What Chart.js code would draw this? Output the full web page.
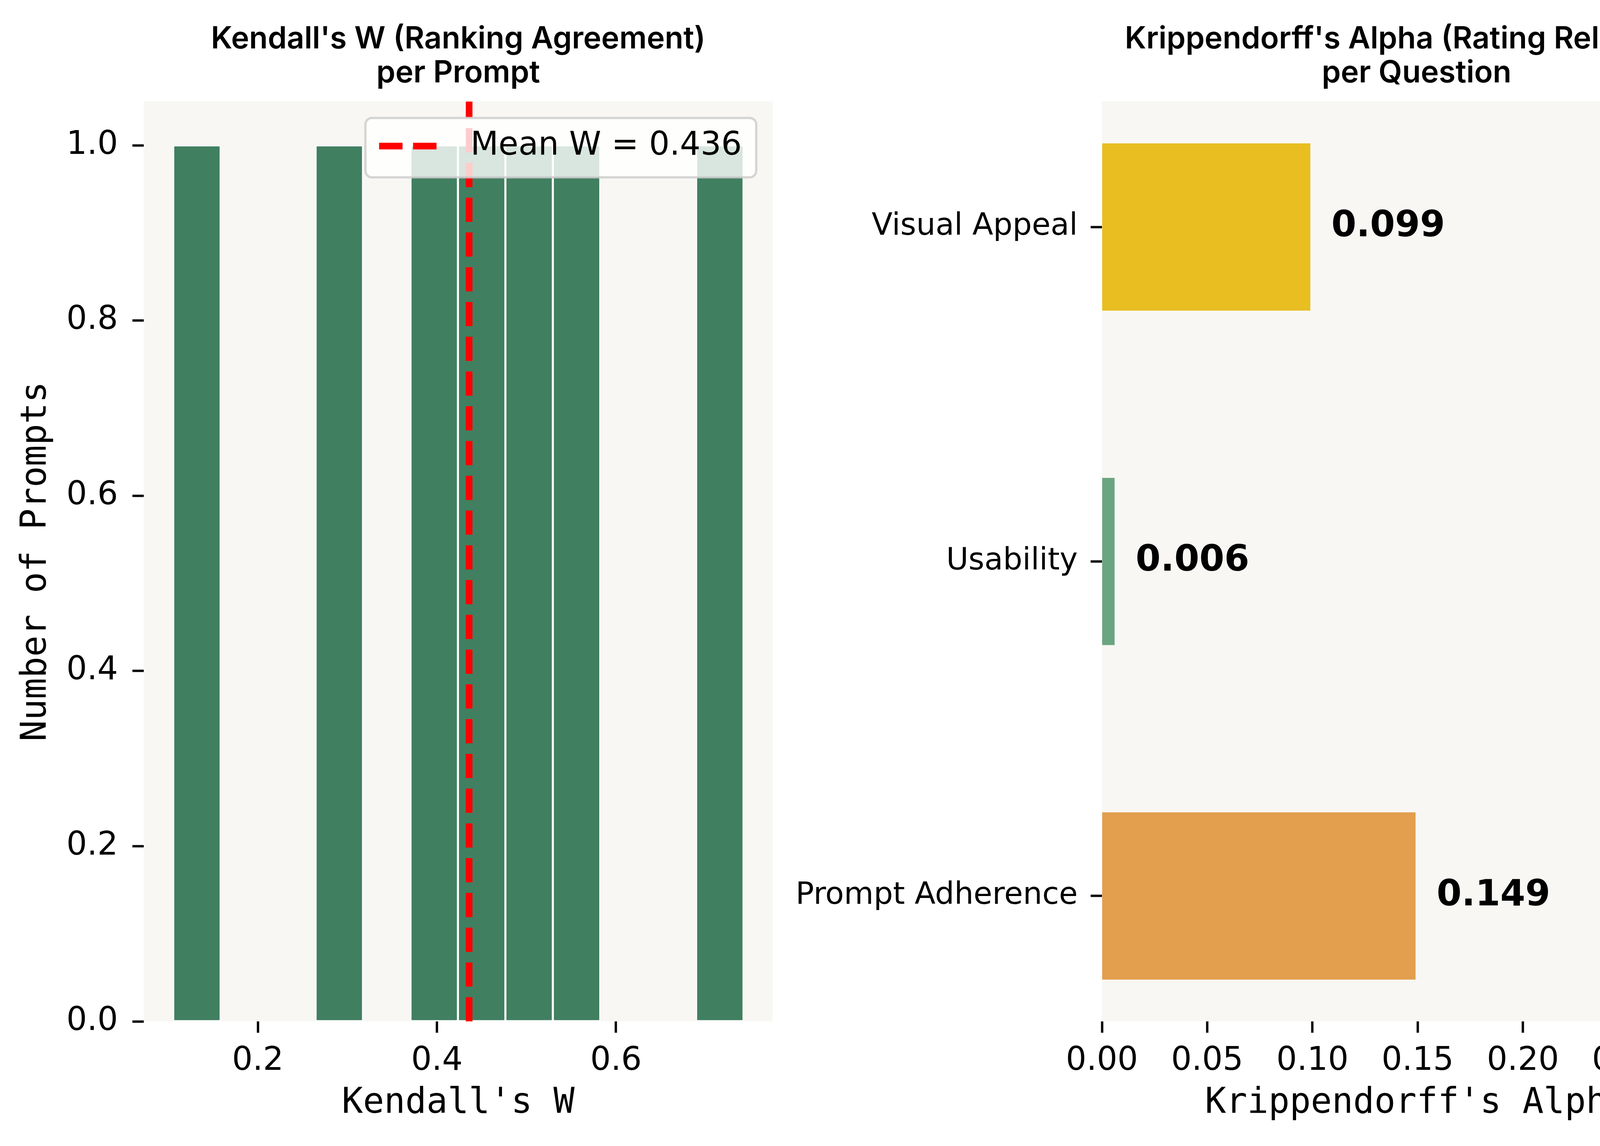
<!DOCTYPE html>
<html>
<head>
<meta charset="utf-8">
<script src="https://cdn.jsdelivr.net/npm/chart.js@4.4.1/dist/chart.umd.min.js"></script>
<style>
    html, body { margin: 0; padding: 0; background: #fff; }
    body { width: 6685px; height: 2934px; position: relative; overflow: hidden; }
    #kendallWrap { position: absolute; left: 0; top: 0; width: 2000px; height: 2934px; }
    #alphaWrap { position: absolute; left: 2000px; top: 0; width: 4685px; height: 2934px; }
</style>
</head>
<body>
<div id="kendallWrap"><canvas id="kendallChart"></canvas></div>
<div id="alphaWrap"><canvas id="alphaChart"></canvas></div>
<script>
// histogram of Kendall's W per prompt (bin centres)
const binCenters = [0.132, 0.185, 0.238, 0.291, 0.344, 0.397, 0.450, 0.503, 0.556, 0.610, 0.663, 0.716];
const promptCounts = [1, 0, 0, 1, 0, 1, 1, 1, 1, 0, 0, 1];
const meanW = 0.436;
const wTicks = [0.2, 0.4, 0.6];
const countTicks = [0, 0.2, 0.4, 0.6, 0.8, 1.0];

// Krippendorff's alpha per question (bottom to top, like barh)
const questions = ['Prompt Adherence', 'Usability', 'Visual Appeal'];
const alphas = [0.149, 0.006, 0.099];
const alphaColors = ['#e39e4e', '#6aa480', '#e8be21'];
const alphaTicks = [0, 0.05, 0.10, 0.15, 0.20, 0.25];
const overallAlpha = 0.667;
const overallLabel = 'acceptable';

const panelColor = '#f8f7f4';
const tickFont = { family: "'DejaVu Sans', sans-serif", size: 83 };
const monoFont = { family: "'DejaVu Sans Mono', monospace", size: 90, lineHeight: 1 };

Chart.defaults.color = '#000';
Chart.defaults.font.family = "'DejaVu Sans', sans-serif";

const panelBg = {
    id: 'panelBg',
    beforeDraw(chart) {
        const { ctx, chartArea: a } = chart;
        ctx.save();
        ctx.fillStyle = panelColor;
        ctx.fillRect(a.left, a.top, a.width, a.height);
        ctx.restore();
    }
};

// two line title centred over the plot area
const twoLineTitle = {
    id: 'twoLineTitle',
    afterDraw(chart, args, opts) {
        const { ctx, chartArea: a } = chart;
        const cx = (a.left + a.right) / 2;
        ctx.save();
        ctx.font = "600 78px Inter, 'DejaVu Sans', sans-serif";
        ctx.fillStyle = '#000';
        ctx.textAlign = 'center';
        ctx.textBaseline = 'alphabetic';
        ctx.fillText(opts.lines[0], cx, 124);
        ctx.fillText(opts.lines[1], cx, 211);
        ctx.restore();
    }
};

const meanLegend = {
    id: 'meanLegend',
    afterDatasetsDraw(chart) {
        const { ctx, chartArea: a } = chart;
        const ds = chart.data.datasets[0];
        ctx.save();
        ctx.font = "83px 'DejaVu Sans', sans-serif";
        const textW = ctx.measureText(ds.label).width;
        const w = 269 + textW + 37;
        const h = 152;
        const right = a.right - 42;
        const top = a.top + 42;
        const left = right - w;
        ctx.beginPath();
        ctx.roundRect(left, top, w, h, 17);
        ctx.fillStyle = 'rgba(255,255,255,0.8)';
        ctx.fill();
        ctx.lineWidth = 6;
        ctx.strokeStyle = 'rgba(204,204,204,0.8)';
        ctx.stroke();
        const cy = top + h / 2 - 4;
        ctx.beginPath();
        ctx.setLineDash([60, 27]);
        ctx.lineWidth = ds.borderWidth;
        ctx.strokeStyle = ds.borderColor;
        ctx.moveTo(left + 35, cy);
        ctx.lineTo(left + 35 + 147, cy);
        ctx.stroke();
        ctx.setLineDash([]);
        ctx.fillStyle = '#000';
        ctx.textAlign = 'left';
        ctx.textBaseline = 'middle';
        ctx.fillText(ds.label, left + 269, cy);
        ctx.restore();
    }
};

const valueLabels = {
    id: 'valueLabels',
    afterDatasetsDraw(chart) {
        const { ctx, scales: { x } } = chart;
        const meta = chart.getDatasetMeta(0);
        ctx.save();
        ctx.font = "bold 92px 'DejaVu Sans', sans-serif";
        ctx.fillStyle = '#000';
        ctx.textAlign = 'left';
        ctx.textBaseline = 'middle';
        meta.data.forEach((bar, i) => {
            ctx.fillText(alphas[i].toFixed(3), x.getPixelForValue(alphas[i] + 0.01), bar.y);
        });
        ctx.restore();
    }
};

const overallNote = {
    id: 'overallNote',
    afterDraw(chart) {
        const { ctx, chartArea: a, scales: { x } } = chart;
        const px = x.getPixelForValue(overallAlpha);
        ctx.save();
        ctx.font = "66px 'DejaVu Sans', sans-serif";
        ctx.fillStyle = '#808080';
        ctx.textAlign = 'center';
        ctx.textBaseline = 'alphabetic';
        ctx.fillText(`α=${overallAlpha.toFixed(3)}`, px, a.bottom - 53);
        ctx.fillText(`(${overallLabel})`, px, a.bottom + 23);
        ctx.restore();
    }
};

const tickGrid = {
    display: true,
    offset: false,
    drawOnChartArea: false,
    drawTicks: true,
    tickLength: 29,
    tickWidth: 6,
    tickColor: '#000'
};

const kendallChart = new Chart(document.getElementById('kendallChart'), {
    data: {
        datasets: [{
            type: 'line',
            label: `Mean W = ${meanW.toFixed(3)}`,
            data: [{ x: meanW, y: 0 }, { x: meanW, y: 1.05 }],
            borderColor: '#ff0000',
            borderWidth: 17,
            borderDash: [62, 27],
            pointRadius: 0,
            order: 0
        }, {
            type: 'bar',
            label: 'Prompts',
            data: binCenters.map((c, i) => ({ x: c, y: promptCounts[i] })),
            backgroundColor: '#417f61',
            borderColor: 'rgba(255,255,255,0.85)',
            borderWidth: 3,
            borderSkipped: false,
            barPercentage: 1,
            categoryPercentage: 1,
            order: 1
        }]
    },
    options: {
        responsive: true,
        maintainAspectRatio: false,
        devicePixelRatio: 1,
        animation: false,
        events: [],
        layout: { padding: { top: 260, right: 22, bottom: 0, left: 0 } },
        plugins: {
            legend: { display: false },
            tooltip: { enabled: false },
            twoLineTitle: { lines: ["Kendall's W (Ranking Agreement)", 'per Prompt'] }
        },
        scales: {
            x: {
                type: 'linear',
                offset: false,
                min: 0.0726,
                max: 0.775,
                afterBuildTicks: s => { s.ticks = wTicks.map(v => ({ value: v })); },
                afterFit: s => { s.height = 319; },
                ticks: { font: tickFont, padding: 24, maxRotation: 0, minRotation: 0, autoSkip: false,
                    callback: v => v.toFixed(1) },
                grid: tickGrid,
                border: { display: false },
                title: { display: true, text: "Kendall's W", font: monoFont, padding: { top: 0, bottom: 63 } }
            },
            y: {
                type: 'linear',
                offset: false,
                min: 0,
                max: 1.05,
                afterBuildTicks: s => { s.ticks = countTicks.map(v => ({ value: v })); },
                afterFit: s => { s.width = 368; },
                ticks: { font: tickFont, padding: 37, autoSkip: false, callback: v => v.toFixed(1) },
                grid: tickGrid,
                border: { display: false },
                title: { display: true, text: 'Number of Prompts', font: monoFont, padding: { top: 49, bottom: 0 } }
            }
        }
    },
    plugins: [panelBg, meanLegend, twoLineTitle]
});

const alphaChart = new Chart(document.getElementById('alphaChart'), {
    type: 'bar',
    data: {
        datasets: [{
            label: "Krippendorff's Alpha",
            data: questions.map((q, i) => ({ x: alphas[i], y: i })),
            backgroundColor: alphaColors,
            borderWidth: 0,
            barPercentage: 0.5,
            categoryPercentage: 1
        }]
    },
    options: {
        indexAxis: 'y',
        responsive: true,
        maintainAspectRatio: false,
        devicePixelRatio: 1,
        animation: false,
        events: [],
        layout: { padding: { top: 260, right: 2253, bottom: 0, left: 0 } },
        plugins: {
            legend: { display: false },
            tooltip: { enabled: false },
            twoLineTitle: { lines: ["Krippendorff's Alpha (Rating Reliability)", 'per Question'] }
        },
        scales: {
            x: {
                type: 'linear',
                offset: false,
                min: 0,
                max: 0.299,
                afterBuildTicks: s => { s.ticks = alphaTicks.map(v => ({ value: v })); },
                afterFit: s => { s.height = 319; },
                ticks: { font: tickFont, padding: 24, maxRotation: 0, minRotation: 0, autoSkip: false,
                    callback: v => v.toFixed(2) },
                grid: tickGrid,
                border: { display: false },
                title: { display: true, text: "Krippendorff's Alpha", font: monoFont, padding: { top: 0, bottom: 63 } }
            },
            y: {
                type: 'linear',
                offset: false,
                min: -0.375,
                max: 2.375,
                afterBuildTicks: s => { s.ticks = questions.map((q, i) => ({ value: i })); },
                afterFit: s => { s.width = 821; },
                ticks: { font: { family: "'DejaVu Sans', sans-serif", size: 78 }, padding: 33, autoSkip: false,
                    callback: v => questions[v] },
                grid: tickGrid,
                border: { display: false }
            }
        }
    },
    plugins: [panelBg, valueLabels, overallNote, twoLineTitle]
});
</script>
</body>
</html>
